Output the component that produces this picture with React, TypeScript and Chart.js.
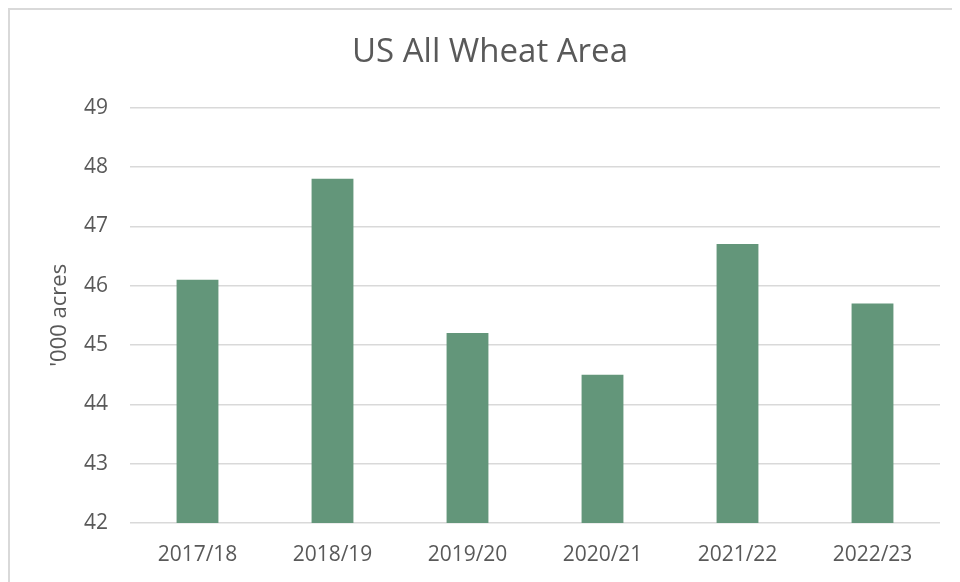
import React, { useEffect, useRef } from "react";
import { Chart, registerables } from "chart.js";

Chart.register(...registerables);

const categories = ["2017/18", "2018/19", "2019/20", "2020/21", "2021/22", "2022/23"];
const areaValues = [46.1, 47.8, 45.2, 44.5, 46.7, 45.7];
const chartTitle = "US All Wheat Area";
const yAxisTitle = "'000 acres";
const yMin = 42;
const yMax = 49;

const FONT = "'Open Sans', 'Noto Sans', sans-serif";
const TEXT = "#595959";

export default function App() {
  const ref = useRef<HTMLCanvasElement | null>(null);

  useEffect(() => {
    if (!ref.current) return;
    const chart = new Chart(ref.current, {
      type: "bar",
      data: {
        labels: categories,
        datasets: [
          {
            data: areaValues,
            backgroundColor: "#63967A",
            barPercentage: 0.31,
            categoryPercentage: 1,
          },
        ],
      },
      options: {
        animation: false,
        responsive: false,
        maintainAspectRatio: false,
        layout: { padding: { top: 0, right: 20, bottom: 0, left: 30 } },
        plugins: {
          legend: { display: false },
          tooltip: { enabled: false },
          title: {
            display: true,
            text: chartTitle,
            color: TEXT,
            font: { family: FONT, size: 33, weight: "normal" },
            padding: { top: 23, bottom: 35 },
          },
        },
        scales: {
          x: {
            grid: { display: false, drawTicks: false },
            border: { display: false },
            ticks: {
              color: TEXT,
              font: { family: FONT, size: 21 },
              padding: 19,
              maxRotation: 0,
            },
            afterFit: (s: any) => {
              s.height = 59;
            },
          },
          y: {
            min: yMin,
            max: yMax,
            ticks: {
              stepSize: 1,
              color: TEXT,
              font: { family: FONT, size: 21 },
              padding: 22,
            },
            grid: { color: "#d9d9d9", lineWidth: 1.5, drawTicks: false },
            border: { display: false },
            title: {
              display: true,
              text: yAxisTitle,
              color: TEXT,
              font: { family: FONT, size: 22 },
              padding: { top: 7, bottom: 0 },
            },
            afterFit: (s: any) => {
              s.width = 90;
            },
          },
        },
      },
    });
    return () => chart.destroy();
  }, []);

  return (
    <div
      style={{
        width: 952,
        height: 574,
        boxSizing: "border-box",
        borderTop: "2px solid #d9d9d9",
        borderLeft: "2px solid #d9d9d9",
        overflow: "hidden",
        background: "#fff",
      }}
    >
      <canvas ref={ref} width={950} height={572} style={{ display: "block" }} />
    </div>
  );
}
